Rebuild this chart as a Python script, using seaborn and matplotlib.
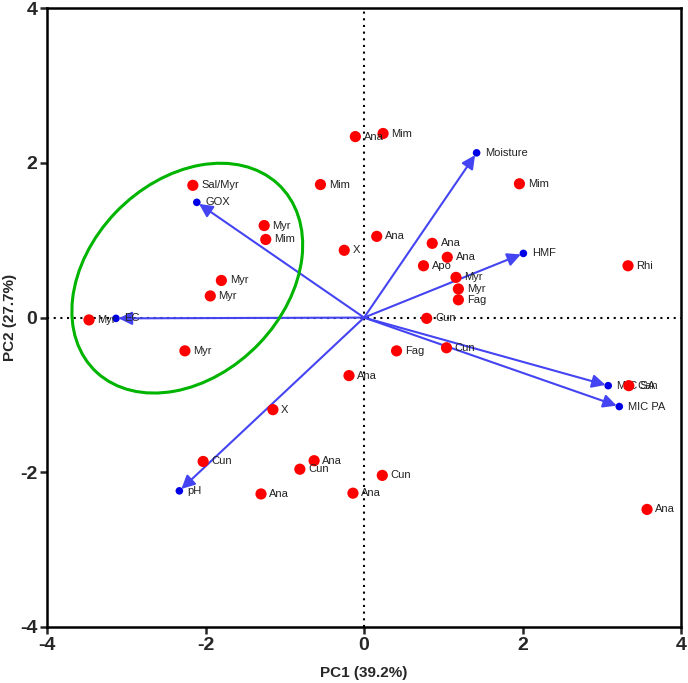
import matplotlib
matplotlib.use("Agg")
import matplotlib.pyplot as plt
from matplotlib.patches import Ellipse
import seaborn as sns
import pandas as pd

# Sample scores (red points)
score_labels = ["Myr", "Sal/Myr", "Myr", "Mim", "Myr", "Myr", "Myr", "Ana", "Mim", "Mim",
                "X", "Ana", "Ana", "Ana", "Apo", "Myr", "Myr", "Fag", "Cun", "Fag",
                "Cun", "Mim", "Rhi", "Can", "Ana", "Ana", "X", "Cun", "Ana", "Cun",
                "Cun", "Ana", "Ana"]
score_pc1 = [-3.47, -2.16, -1.26, -1.24, -1.80, -1.94, -2.26, -0.11, 0.24, -0.55,
             -0.25, 0.16, 0.86, 1.05, 0.75, 1.16, 1.19, 1.19, 0.79, 0.41,
             1.04, 1.96, 3.33, 3.34, 3.57, -0.19, -1.15, -2.03, -0.63, -0.81,
             0.23, -1.30, -0.14]
score_pc2 = [-0.03, 1.71, 1.19, 1.01, 0.48, 0.28, -0.43, 2.34, 2.38, 1.72,
             0.87, 1.05, 0.96, 0.78, 0.67, 0.52, 0.37, 0.23, -0.01, -0.43,
             -0.39, 1.73, 0.67, -0.88, -2.48, -0.75, -1.19, -1.86, -1.85, -1.96,
             -2.04, -2.28, -2.27]

# Variable loadings (blue arrows)
load_labels = ["Moisture", "HMF", "MIC SA", "MIC PA", "pH", "EC", "GOX"]
load_pc1 = [1.42, 2.01, 3.08, 3.22, -2.33, -3.13, -2.11]
load_pc2 = [2.13, 0.83, -0.88, -1.15, -2.24, -0.01, 1.49]

x_ticks = [-4, -2, 0, 2, 4]
y_ticks = [-4, -2, 0, 2, 4]

sns.set_style("ticks")
plt.rcParams["font.family"] = ["Liberation Sans", "DejaVu Sans"]

fig = plt.figure(figsize=(6.88, 6.83), dpi=100)
ax = fig.add_axes([0.0683, 0.082, 0.9217, 0.906])

ax.axhline(0, color="black", ls=(0, (1, 2.2)), lw=1.5, zorder=1)
ax.axvline(0, color="black", ls=(0, (1, 2.2)), lw=1.5, zorder=1)

scores = pd.DataFrame({"PC1": score_pc1, "PC2": score_pc2, "label": score_labels})
loads = pd.DataFrame({"PC1": load_pc1, "PC2": load_pc2, "label": load_labels})

arrow_col = "#4444f2"
for _, r in loads.iterrows():
    ax.annotate("", xy=(r.PC1, r.PC2), xytext=(0, 0),
                arrowprops=dict(arrowstyle="-|>", color=arrow_col, lw=1.5,
                                mutation_scale=20, shrinkA=0, shrinkB=2),
                zorder=2)

sns.scatterplot(data=loads, x="PC1", y="PC2", color="#0000e6", s=30,
                edgecolor="none", ax=ax, zorder=3)
for _, r in loads.iterrows():
    ax.annotate(r.label, (r.PC1, r.PC2), xytext=(6, 0), textcoords="offset points",
                va="center", ha="left", fontsize=8, color="#222222", zorder=4)

sns.scatterplot(data=scores, x="PC1", y="PC2", color="#ff0000", s=65,
                edgecolor="none", ax=ax, zorder=5)
for _, r in scores.iterrows():
    ax.annotate(r.label, (r.PC1, r.PC2), xytext=(6, 0), textcoords="offset points",
                va="center", ha="left", fontsize=8, color="#222222", zorder=6)

ell = Ellipse((-2.23, 0.51), width=3.34, height=2.48, angle=47,
              fill=False, edgecolor="#00b400", lw=2.2, zorder=4)
ax.add_patch(ell)

ax.set_xlim(-4, 4)
ax.set_ylim(-4, 4)
ax.set_xticks(x_ticks)
ax.set_yticks(y_ticks)
ax.set_xticklabels([str(t) for t in x_ticks], fontsize=14, fontweight="bold")
ax.set_yticklabels([str(t) for t in y_ticks], fontsize=14, fontweight="bold")
ax.tick_params(direction="out", length=5, width=1.8, pad=2)
for s in ax.spines.values():
    s.set_linewidth(1.8)
    s.set_color("black")
ax.set_xlabel("PC1 (39.2%)", fontsize=11, fontweight="bold", labelpad=9)
ax.set_ylabel("PC2 (27.7%)", fontsize=11, fontweight="bold", labelpad=2)

fig.savefig("out.png", dpi=100)
